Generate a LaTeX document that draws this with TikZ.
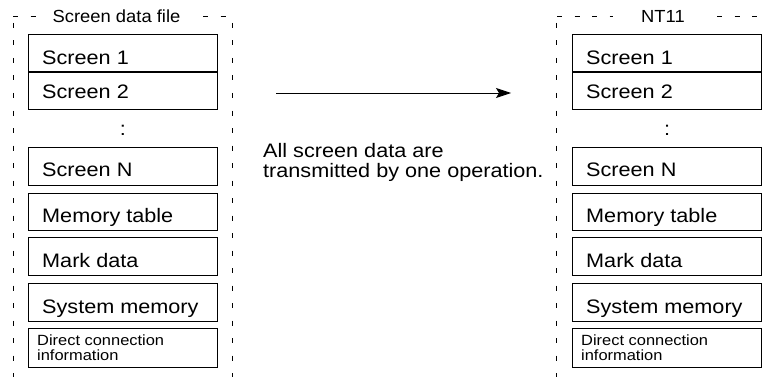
\documentclass[tikz,border=0pt]{standalone}
\usepackage{fontspec}
\setmainfont{Liberation Sans}[FakeStretch=1.11]
\newfontfamily\hdfamily{Liberation Sans}[FakeStretch=1.05]
\newfontfamily\smfamily{Liberation Sans}[FakeStretch=1.11]
\newcommand\bigtext{\fontsize{19.5}{22}\selectfont}
\newcommand\hdtext{\hdfamily\fontsize{17.5}{20}\selectfont}
\newcommand\smtext{\smfamily\fontsize{14.8}{16}\selectfont}
\usetikzlibrary{arrows.meta}
\newcommand\screengroup[2]{%
  \begin{scope}[xshift=#2]
    \node[box, minimum height=38pt] (#1s1) at (28,34) {};
    \node[box, minimum height=37pt] (#1s2) at (28,72) {};
    \draw[line width=1.6pt] (#1s2.north west) -- (#1s2.north east);
    \node[box, minimum height=38pt] (#1sN) at (28,147) {};
    \node[box, minimum height=37pt] (#1mt) at (28,193) {};
    \node[box, minimum height=38pt] (#1md) at (28,237) {};
    \node[box, minimum height=38pt] (#1sm) at (28,283) {};
    \node[box, minimum height=39pt] (#1dc) at (28,328) {};
    \node[lbl] (#1t1) at (42,65) {Screen 1};
    \node[lbl] (#1t2) at (42,98.5) {Screen 2};
    \node[font=\bigtext, inner sep=0pt] (#1co) at (123,130) {:};
    \node[lbl] (#1tN) at (42,176) {Screen N};
    \node[lbl] (#1tm) at (42,222) {Memory table};
    \node[lbl] (#1td) at (42,267) {Mark data};
    \node[lbl] (#1ts) at (42,313) {System memory};
    \node[sml] (#1tc) at (37,345) {Direct connection};
    \node[sml] (#1ti) at (37,360) {information};
  \end{scope}}
\begin{document}
\begin{tikzpicture}[x=1pt,y=-1pt,
  box/.style={draw, line width=0.9pt, minimum width=189pt, inner sep=0pt, anchor=north west},
  lbl/.style={inner sep=0pt, anchor=base west, font=\bigtext},
  sml/.style={inner sep=0pt, anchor=base west, font=\smtext},
  dsh/.style={line width=0.9pt, dash pattern=on 5pt off 12.5pt}]
\useasboundingbox (0,0) rectangle (767,377);
\clip (0,0) rectangle (767,377);
\screengroup{L}{0pt}
\screengroup{R}{544pt}
% headers
\node[font=\hdtext, inner sep=0pt, anchor=base] (hL) at (116.5,23) {Screen data file};
\node[font=\hdtext, inner sep=0pt, anchor=base] (hR) at (663,23) {NT11};
% dashed frames
\coordinate (L0) at (13,16); \coordinate (L1) at (36,16);
\coordinate (L2) at (203,16); \coordinate (L3) at (232,16);
\coordinate (L4) at (13,23); \coordinate (L5) at (13,377);
\coordinate (L6) at (232,23); \coordinate (L7) at (232,377);
\draw[dsh] (L0) -- (L1);
\draw[dsh] (L2) -- (L3);
\draw[dsh] (L4) -- (L5);
\draw[dsh] (L6) -- (L7);
\coordinate (R0) at (557,16); \coordinate (R1) at (613,16);
\coordinate (R2) at (717,16); \coordinate (R3) at (776,16);
\coordinate (R4) at (556,23); \coordinate (R5) at (556,377);
\draw[dsh] (R0) -- (R1);
\draw[dsh] (R2) -- (R3);
\draw[dsh] (R4) -- (R5);
% arrow and text
\coordinate (as) at (276,93); \coordinate (ae) at (511,93);
\draw[line width=0.9pt, -{Stealth[length=15pt,width=10pt,inset=3pt]}] (as) -- (ae);
\node[lbl] (m1) at (263,157.5) {All screen data are};
\node[lbl] (m2) at (263,177) {transmitted by one operation.};
\end{tikzpicture}
\end{document}
